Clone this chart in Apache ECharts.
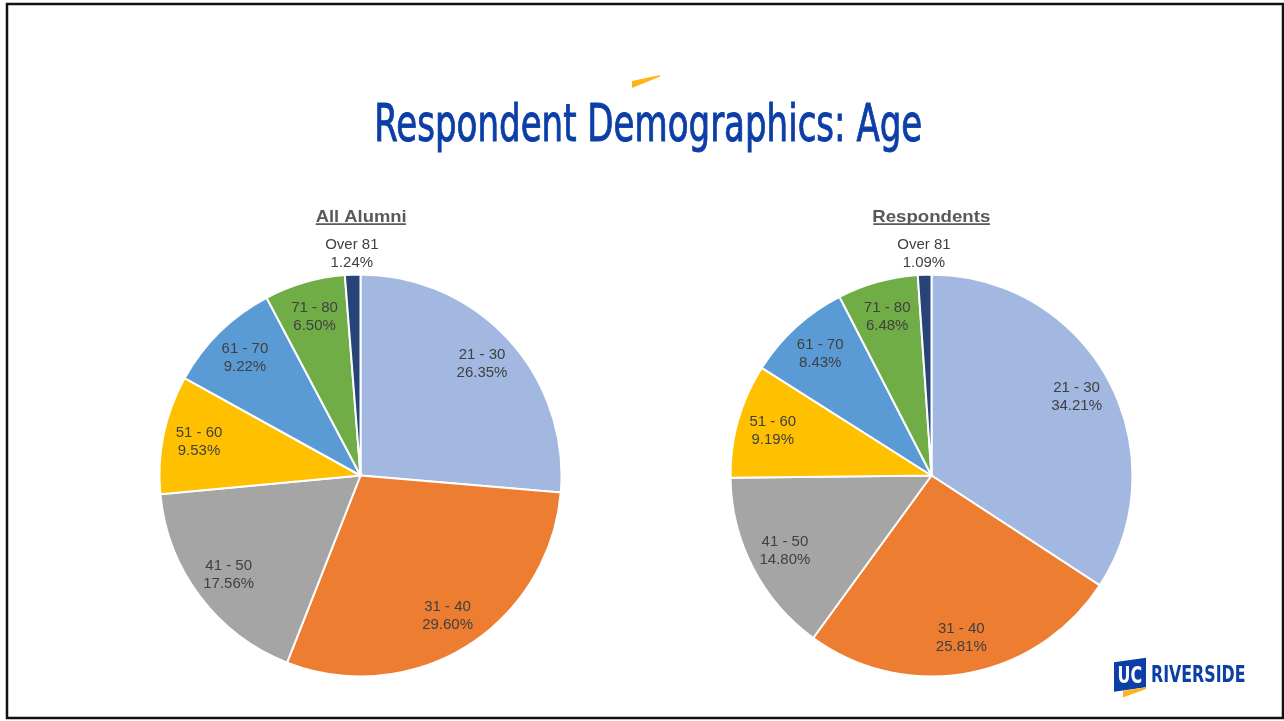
<!DOCTYPE html>
<html><head><meta charset="utf-8">
<script src="https://cdn.jsdelivr.net/npm/echarts@6/dist/echarts.min.js"></script>
<style>html,body{margin:0;padding:0;background:#fff}#c{width:1284px;height:721px}</style>
</head><body><div id="c"></div>
<script>
// ---- data ----
const categories = ['21 - 30', '31 - 40', '41 - 50', '51 - 60', '61 - 70', '71 - 80', 'Over 81'];
const allAlumni = [26.35, 29.60, 17.56, 9.53, 9.22, 6.50, 1.24];
const respondents = [34.21, 25.81, 14.80, 9.19, 8.43, 6.48, 1.09];
const pieTitles = ['All Alumni', 'Respondents'];
const mainTitle = 'Respondent Demographics: Age';
const logoMark = 'UC';
const logoWord = 'RIVERSIDE';

// ---- styles ----
const colors = ['#A2B8E0', '#ED7D31', '#A5A5A5', '#FFC000', '#5B9BD5', '#70AD47', '#264478'];
const narrow = "'Liberation Sans Narrow', 'DejaVu Sans Condensed', 'Liberation Sans', sans-serif";
const arial = "'Liberation Sans', Arial, sans-serif";
const ucBlue = '#0B3EA6';
const ucGold = '#FDB515';

const mctx = document.createElement('canvas').getContext('2d');
function fitText(text, family, weight, left, right, capTop, baseline, color, strokeW) {
  mctx.textBaseline = 'middle';
  mctx.textAlign = 'left';
  mctx.font = weight + ' 100px ' + family;
  const h = mctx.measureText('H');
  const capRatio = (h.actualBoundingBoxAscent + h.actualBoundingBoxDescent) / 100;
  const sw = strokeW || 0;
  const size = (baseline - capTop - sw) / capRatio;
  const font = weight + ' ' + size.toFixed(2) + 'px ' + family;
  mctx.font = font;
  const hm = mctx.measureText('H');
  const m = mctx.measureText(text);
  const ink = m.actualBoundingBoxLeft + m.actualBoundingBoxRight + sw;
  const sx = (right - left) / ink;
  const style = { text, font, fill: color, align: 'left', verticalAlign: 'middle',
                  textAlign: 'left', textVerticalAlign: 'middle' };
  if (sw) { style.stroke = color; style.lineWidth = sw; }
  return {
    type: 'text', silent: true, z: 20,
    x: left + (m.actualBoundingBoxLeft + sw / 2) * sx,
    y: baseline - sw / 2 - hm.actualBoundingBoxDescent,
    scaleX: sx,
    style
  };
}

const pieR = 201;
const pieCY = 475.5;
const pieCX = [360.5, 931.5];

function labelFmt(p) { return p.name + '\n' + p.value.toFixed(2) + '%'; }

function pieSeries(values, cx) {
  const data = categories.map((c, i) => ({ name: c, value: values[i] }));
  const base = { type: 'pie', center: [cx, pieCY], startAngle: 90, clockwise: true,
                 animation: false, silent: true, avoidLabelOverlap: false,
                 labelLine: { show: false } };
  const lbl = { position: 'inside', formatter: labelFmt, fontFamily: arial, fontSize: 15,
                lineHeight: 18, color: '#404040' };
  return [
    Object.assign({}, base, { radius: [0, pieR], data,
      itemStyle: { borderColor: '#ffffff', borderWidth: 2 }, label: { show: false } }),
    Object.assign({}, base, { radius: [126, 198], z: 3,
      data: data.map(d => ({ name: d.name, value: d.value, label: { show: d.value >= 2 } })),
      itemStyle: { color: 'rgba(0,0,0,0)' }, label: lbl }),
    Object.assign({}, base, { radius: [201, 237], z: 3,
      data: data.map(d => ({ name: d.name, value: d.value, label: { show: d.value < 2 } })),
      itemStyle: { color: 'rgba(0,0,0,0)' }, label: lbl })
  ];
}

const graphics = [
  { type: 'rect', silent: true, shape: { x: 7, y: 4, width: 1276, height: 714 },
    style: { fill: 'none', stroke: '#111', lineWidth: 2.5 }, z: 30 },
  { type: 'polygon', silent: true, shape: { points: [[632, 81], [660, 75], [660, 76.5], [632, 88]] },
    style: { fill: ucGold } },
  fitText(mainTitle, narrow, 'normal', 377, 921, 103, 141, ucBlue, 0.9),
  fitText(pieTitles[0], arial, 'bold', 315.7, 406, 210, 221.7, '#595959'),
  fitText(pieTitles[1], arial, 'bold', 873.3, 990, 210, 221.7, '#595959'),
  { type: 'rect', silent: true, shape: { x: 315.7, y: 223.3, width: 90.3, height: 1.6 }, style: { fill: '#595959' } },
  { type: 'rect', silent: true, shape: { x: 873.3, y: 223.3, width: 116.7, height: 1.6 }, style: { fill: '#595959' } },
  // logo
  { type: 'polygon', silent: true, shape: { points: [[1114, 662.3], [1146, 657.7], [1146, 687.3], [1114, 691.7]] },
    style: { fill: ucBlue } },
  { type: 'polygon', silent: true, shape: { points: [[1123, 691], [1146, 687.3], [1146, 689], [1123, 697.5]] },
    style: { fill: ucGold } },
  fitText(logoMark, narrow, 'bold', 1118.3, 1141.7, 665.7, 683, '#ffffff'),
  fitText(logoWord, narrow, 'bold', 1151.7, 1244.3, 665, 682.3, ucBlue)
];

const chart = echarts.init(document.getElementById('c'), null, { renderer: 'canvas' });
chart.setOption({
  backgroundColor: '#ffffff',
  animation: false,
  color: colors,
  series: [].concat(pieSeries(allAlumni, pieCX[0]), pieSeries(respondents, pieCX[1])),
  graphic: graphics
});
</script>
</body></html>
